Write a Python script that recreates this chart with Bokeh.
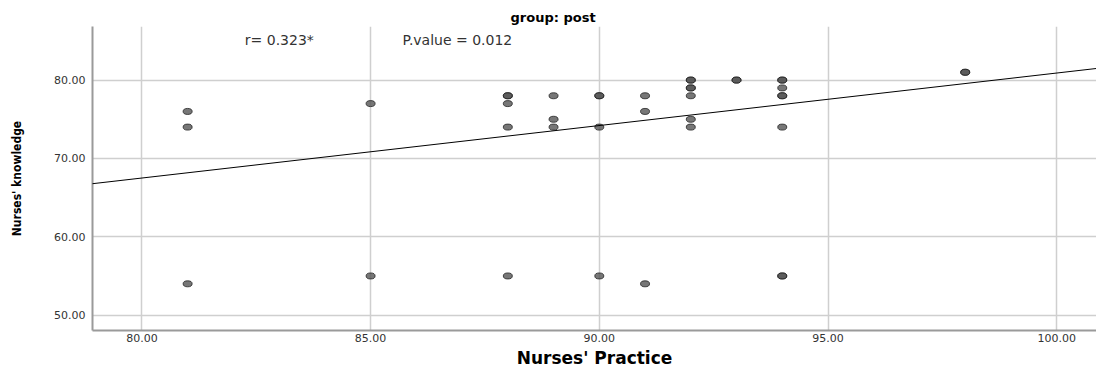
from bokeh.plotting import figure
from bokeh.models import Range1d, Label, Slope, ColumnDataSource, FixedTicker, NumeralTickFormatter
from bokeh.embed import file_html
from bokeh.resources import INLINE

# ---- data ----
practice = [81, 81, 81,
            85, 85,
            88, 88, 88, 88, 88,
            89, 89, 89,
            90, 90, 90, 90,
            91, 91, 91,
            92, 92, 92, 92, 92, 92, 92,
            93, 93,
            94, 94, 94, 94, 94, 94, 94, 94,
            98, 98]
knowledge = [76, 74, 54,
             77, 55,
             78, 78, 77, 74, 55,
             78, 75, 74,
             78, 78, 74, 55,
             78, 76, 54,
             80, 80, 79, 79, 78, 75, 74,
             80, 80,
             80, 80, 79, 78, 78, 74, 55, 55,
             81, 81]
fit_intercept = 13.9
fit_slope = 0.670
x_ticks = [80, 85, 90, 95, 100]
y_ticks = [50, 60, 70, 80]
title_text = "group: post"
r_text = "r= 0.323*"
p_text = "P.value = 0.012"
x_label = "Nurses' Practice"
y_label = "Nurses' knowledge"

src = ColumnDataSource(dict(x=practice, y=knowledge))

p = figure(width=1096, height=370,
           x_range=Range1d(78.92, 100.87), y_range=Range1d(48.04, 86.84),
           output_backend="svg", toolbar_location=None,
           min_border_left=92, min_border_right=0, min_border_top=26, min_border_bottom=37,
           title=title_text)
p.outline_line_color = None
p.background_fill_color = "white"

p.title.align = "left"
p.title.offset = 418
p.title.text_font = "DejaVu Sans"
p.title.text_font_size = "13px"
p.title.text_font_style = "bold"
p.title.text_color = "black"
p.title.standoff = 4

for ax, ticks in ((p.xaxis[0], x_ticks), (p.yaxis[0], y_ticks)):
    ax.ticker = FixedTicker(ticks=ticks)
    ax.formatter = NumeralTickFormatter(format="0.00")
    ax.axis_line_color = "#9a9a9a"
    ax.axis_line_width = 2
    ax.major_tick_line_color = None
    ax.major_tick_out = 0
    ax.major_tick_in = 0
    ax.minor_tick_line_color = None
    ax.minor_tick_out = 0
    ax.major_label_text_font = "DejaVu Sans"
    ax.major_label_text_font_size = "11px"
    ax.major_label_text_color = "#333333"

p.xaxis.major_label_standoff = 3
p.xaxis.axis_label = x_label
p.xaxis.axis_label_text_font = "DejaVu Sans"
p.xaxis.axis_label_text_font_size = "17px"
p.xaxis.axis_label_text_font_style = "bold"
p.xaxis.axis_label_text_color = "black"
p.xaxis.axis_label_standoff = 3

p.yaxis.major_label_standoff = 7
p.yaxis.axis_label = y_label
p.yaxis.axis_label_text_font = "'DejaVu Sans Condensed', 'Liberation Sans', sans-serif"
p.yaxis.axis_label_text_font_size = "12px"
p.yaxis.axis_label_text_font_style = "bold"
p.yaxis.axis_label_text_color = "black"
p.yaxis.axis_label_standoff = 27

p.xgrid.ticker = FixedTicker(ticks=x_ticks)
p.ygrid.ticker = FixedTicker(ticks=y_ticks)
for g in (p.xgrid[0], p.ygrid[0]):
    g.grid_line_color = "#cfcfcf"
    g.grid_line_width = 1.5

p.add_layout(Slope(gradient=fit_slope, y_intercept=fit_intercept,
                   line_color="black", line_width=1))

p.ellipse(x="x", y="y", width=9, height=6, width_units="screen", height_units="screen",
          source=src, fill_color="#555555", fill_alpha=0.8,
          line_color="#222222", line_width=1, line_alpha=0.8)

p.add_layout(Label(x=82.25, y=85.06, text=r_text, text_font="DejaVu Sans",
                   text_font_size="14px", text_color="#333333", text_baseline="middle"))
p.add_layout(Label(x=85.70, y=85.06, text=p_text, text_font="DejaVu Sans",
                   text_font_size="14px", text_color="#333333", text_baseline="middle"))

open("out.html", "w").write(file_html(p, INLINE))
